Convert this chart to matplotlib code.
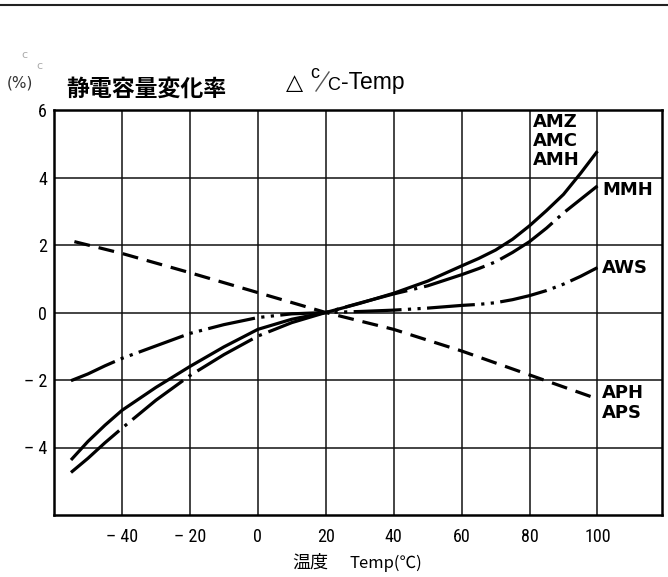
import matplotlib
matplotlib.use('Agg')
import matplotlib.pyplot as plt
from matplotlib import font_manager
from matplotlib.lines import Line2D

W, H = 668, 577

# ---- data ----
temps = [-55, -50, -45, -40, -30, -20, -10, 0, 10, 20, 30, 40, 50, 60, 65, 70, 75, 80, 85, 90, 95, 100]
amz = [-4.37, -3.82, -3.34, -2.9, -2.22, -1.6, -1.02, -0.5, -0.2, 0.0, 0.27, 0.57, 0.93, 1.38, 1.6,
       1.85, 2.17, 2.57, 3.02, 3.5, 4.12, 4.78]
mmh = [-4.74, -4.32, -3.86, -3.43, -2.6, -1.87, -1.25, -0.7, -0.3, 0.0, 0.28, 0.55, 0.79, 1.12, 1.3,
       1.5, 1.78, 2.1, 2.5, 2.95, 3.35, 3.75]
aws = [-2.02, -1.82, -1.58, -1.36, -0.99, -0.62, -0.36, -0.15, -0.04, 0.0, 0.03, 0.07, 0.13, 0.21, 0.24,
       0.29, 0.38, 0.5, 0.65, 0.84, 1.07, 1.33]
aph_t = [-54, -40, -20, 0, 20, 40, 60, 80, 100]
aph = [2.1, 1.75, 1.18, 0.59, 0.0, -0.5, -1.14, -1.85, -2.56]

xticks = [-40, -20, 0, 20, 40, 60, 80, 100]
xtick_labels = ['– 40', '– 20', '0', '20', '40', '60', '80', '100']
yticks = [-4, -2, 0, 2, 4, 6]
ytick_labels = ['– 4', '– 2', '0', '2', '4', '6']


def pick(names):
    avail = {f.name for f in font_manager.fontManager.ttflist}
    for n in names:
        if n in avail:
            return n
    return 'DejaVu Sans'


tick_font = pick(['Liberation Sans Narrow', 'Roboto Condensed', 'Liberation Sans'])
cjk = 'Noto Sans CJK JP'

fig = plt.figure(figsize=(W / 100, H / 100), dpi=100)
ax = fig.add_axes([54 / W, 1 - 515 / H, (662 - 54) / W, (515 - 110) / H])
ax.set_xlim(-60, 119)
ax.set_ylim(-6, 6)
ax.set_xticks(xticks)
ax.set_xticklabels(xtick_labels, fontsize=13, family=tick_font)
ax.set_yticks(yticks)
ax.set_yticklabels(ytick_labels, fontsize=13, family=tick_font)
ax.tick_params(axis='x', length=0, pad=9)
ax.tick_params(axis='y', length=0, pad=5)
ax.grid(True, color='#111111', lw=1.1)
ax.set_axisbelow(True)
for s in ax.spines.values():
    s.set_linewidth(1.8)
    s.set_color('black')

lw = 2.3
ax.plot(temps, amz, color='black', lw=lw, solid_capstyle='butt', solid_joinstyle='round')
ax.plot(temps, mmh, color='black', lw=lw, dashes=(20, 2.2, 1, 2.2), dash_capstyle='butt')
ax.plot(temps, aws, color='black', lw=lw, dashes=(15, 2, 1, 2, 1, 2), dash_capstyle='butt')
ax.plot(aph_t, aph, color='black', lw=lw, dashes=(5, 2.8), dash_capstyle='butt')


def ftext(x, y, s, **kw):
    fig.text(x / W, 1 - y / H, s, **kw)


# series labels
lab = dict(fontsize=13, family='DejaVu Sans', fontweight='bold', va='center', ha='left')
ftext(533, 122, 'AMZ', **lab)
ftext(533, 141, 'AMC', **lab)
ftext(533, 160, 'AMH', **lab)
ftext(602, 190, 'MMH', **lab)
ftext(602, 268, 'AWS', **lab)
ftext(602, 393, 'APH', **lab)
ftext(602, 413, 'APS', **lab)

# titles
ftext(66, 89, '静電容量変化率', fontsize=16.5, family=cjk, fontweight='bold', va='center', ha='left')
ftext(7, 83, '(%)', fontsize=11, family='DejaVu Sans', va='center', ha='left', color='#333333')
ftext(21, 55, 'c', fontsize=8, color='#aaaaaa', va='center', ha='left')
ftext(36, 66, 'c', fontsize=8, color='#aaaaaa', va='center', ha='left')

ftext(286, 83, '△', fontsize=16, family='DejaVu Sans', va='center', ha='left')
ftext(310, 74, 'c', fontsize=13, family='Liberation Sans', va='center', ha='left')
fig.add_artist(Line2D([316 / W, 329 / W], [1 - 91 / H, 1 - 72 / H], transform=fig.transFigure,
                      color='#555555', lw=1.0))
ftext(327, 86, 'C', fontsize=13, family='Liberation Sans', va='center', ha='left')
ftext(341, 83, '-Temp', fontsize=16.5, family='Liberation Sans', va='center', ha='left')

# x axis title
ftext(292, 563, '温度', fontsize=13, family=cjk, va='center', ha='left')
ftext(350, 563, 'Temp(℃)', fontsize=12, family=cjk, va='center', ha='left')

# scan line at top
fig.add_artist(Line2D([0, 1], [1 - 5 / H, 1 - 5 / H], transform=fig.transFigure, color='#222222', lw=1.5))

fig.savefig('out.png', dpi=100)
